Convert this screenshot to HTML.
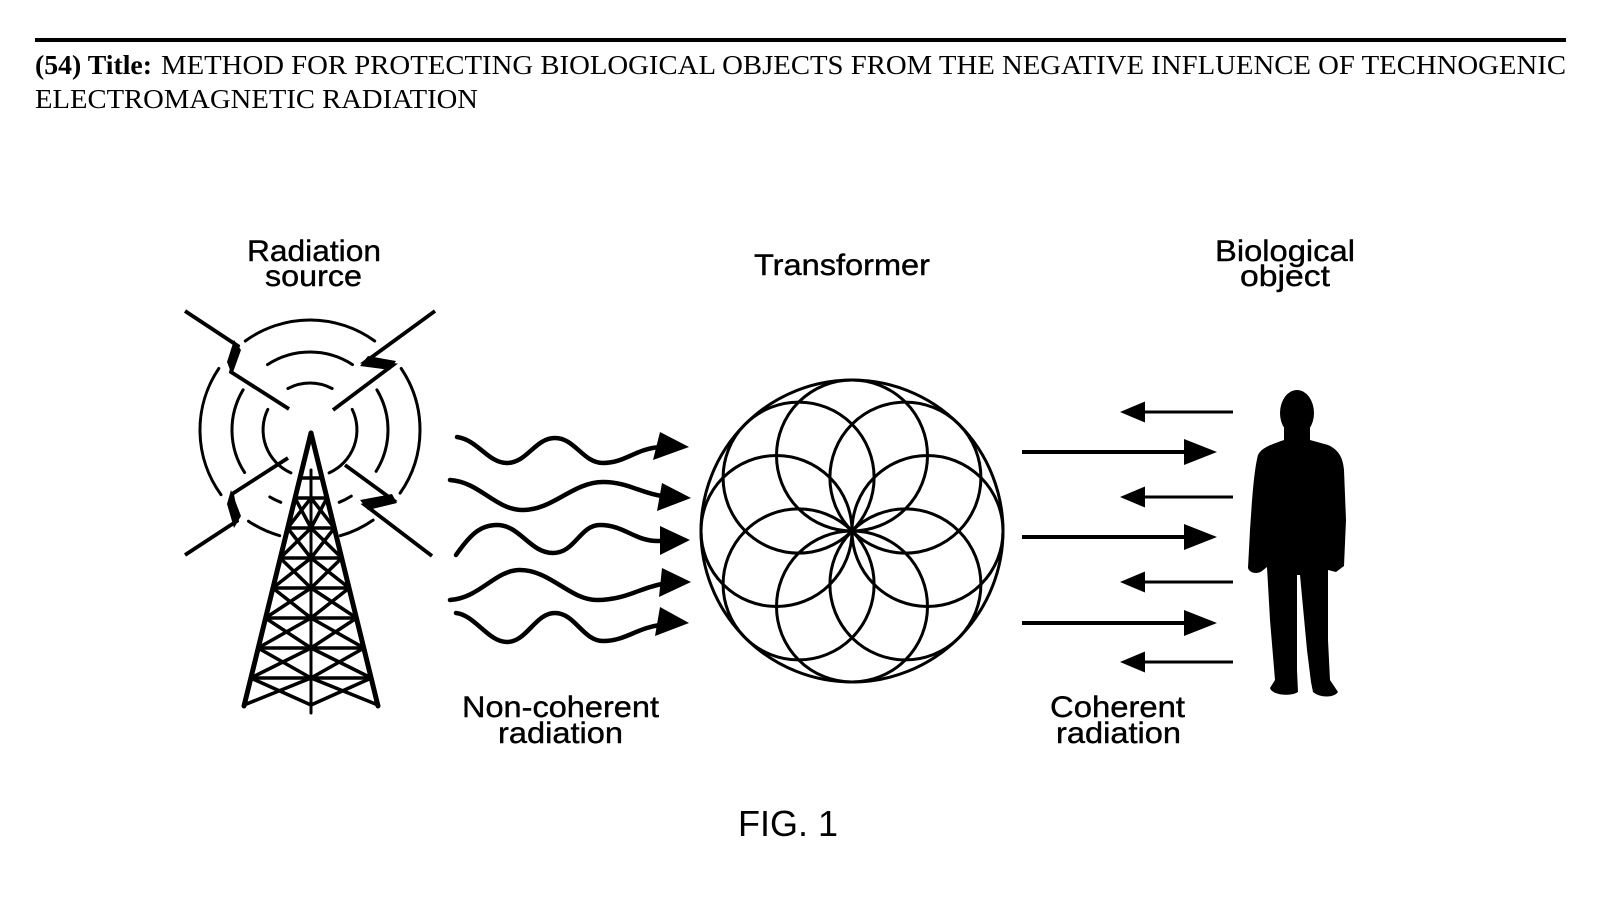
<!DOCTYPE html>
<html>
<head>
<meta charset="utf-8">
<style>
html,body{margin:0;padding:0;background:#fff;}
svg{display:block;}
</style>
</head>
<body>
<svg width="1600" height="900" viewBox="0 0 1600 900" xmlns="http://www.w3.org/2000/svg">
<rect x="0" y="0" width="1600" height="900" fill="#fff"/>

<!-- Header -->
<rect x="35" y="38" width="1531" height="4" fill="#000"/>
<text x="35" y="74" font-family="Liberation Serif, serif" font-size="27" font-weight="bold" textLength="117" lengthAdjust="spacingAndGlyphs">(54) Title:</text>
<text x="161" y="74" font-family="Liberation Serif, serif" font-size="27" textLength="1405" lengthAdjust="spacingAndGlyphs">METHOD FOR PROTECTING BIOLOGICAL OBJECTS FROM THE NEGATIVE INFLUENCE OF TECHNOGENIC</text>
<text x="35" y="108" font-family="Liberation Serif, serif" font-size="27" textLength="443" lengthAdjust="spacingAndGlyphs">ELECTROMAGNETIC RADIATION</text>

<!-- Labels -->
<g font-family="Liberation Sans, Arial, sans-serif" font-size="30" fill="#000" stroke="#000" stroke-width="0.4">
<text x="247" y="261" textLength="134" lengthAdjust="spacingAndGlyphs">Radiation</text>
<text x="265" y="286" textLength="97" lengthAdjust="spacingAndGlyphs">source</text>
<text x="754" y="275" textLength="176" lengthAdjust="spacingAndGlyphs">Transformer</text>
<text x="1215" y="261" textLength="140" lengthAdjust="spacingAndGlyphs">Biological</text>
<text x="1240" y="286" textLength="90" lengthAdjust="spacingAndGlyphs">object</text>
<text x="462" y="717" textLength="197" lengthAdjust="spacingAndGlyphs">Non-coherent</text>
<text x="498" y="743" textLength="125" lengthAdjust="spacingAndGlyphs">radiation</text>
<text x="1050" y="717" textLength="135" lengthAdjust="spacingAndGlyphs">Coherent</text>
<text x="1056" y="743" textLength="125" lengthAdjust="spacingAndGlyphs">radiation</text>
</g>
<text x="738" y="836" font-family="Liberation Sans, Arial, sans-serif" font-size="36" textLength="100" lengthAdjust="spacingAndGlyphs">FIG. 1</text>

<!-- Radiation rings -->
<g fill="none" stroke="#000" stroke-width="3" stroke-linecap="round">
<path d="M245.3,341 A110,110 0 0 1 374.7,341"/>
<path d="M401.2,368.5 A110,110 0 0 1 400.1,493.1"/>
<path d="M373.1,520.1 A110,110 0 0 1 340.3,535.7"/>
<path d="M279.7,535.7 A110,110 0 0 1 248.5,521.2"/>
<path d="M221,494.7 A110,110 0 0 1 218.8,368.5"/>
<path d="M267.5,364.6 A78,78 0 0 1 352.5,364.6"/>
<path d="M376.9,389.8 A78,78 0 0 1 376.1,471.3"/>
<path d="M351.3,496.1 A78,78 0 0 1 339.2,502.3"/>
<path d="M280.8,502.3 A78,78 0 0 1 269.8,496.9"/>
<path d="M244.6,472.5 A78,78 0 0 1 243.1,389.8"/>
<path d="M287.9,388.5 A47,47 0 0 1 332.1,388.5"/>
<path d="M352.2,409.4 A47,47 0 0 1 329.1,472.9"/>
<path d="M290.9,472.9 A47,47 0 0 1 267.8,409.4"/>
</g>

<!-- Lightning bolts -->
<g fill="none" stroke="#000" stroke-width="3.8" stroke-linejoin="miter" stroke-miterlimit="8" stroke-linecap="butt">
<polyline points="185,311 238,346 231,372 289,409"/>
<polyline points="435,311 365,362 393,365 333,410"/>
<polyline points="185,555 237,521 232,494 288,458"/>
<polyline points="345,465 393,500 365,505 432,556"/>
</g>
<g fill="#000">
<polygon points="234,340 241,350 232,375 227,362"/>
<polygon points="368,356 396,361 390,370 360,366"/>
<polygon points="234,528 241,516 231,490 227,504"/>
<polygon points="392,494 397,503 368,510 360,500"/>
</g>

<!-- Tower -->
<g stroke="#000" fill="none" stroke-linecap="round">
<line x1="311" y1="433" x2="244" y2="706" stroke-width="5"/>
<line x1="311" y1="433" x2="378" y2="706" stroke-width="5"/>
<line x1="311" y1="470" x2="311" y2="713" stroke-width="3"/>
<g stroke-width="3.5">
<line x1="295" y1="498" x2="327" y2="498"/>
<line x1="287.6" y1="528" x2="334.4" y2="528"/>
<line x1="280.2" y1="558" x2="341.8" y2="558"/>
<line x1="272.8" y1="588" x2="349.2" y2="588"/>
<line x1="265.4" y1="618" x2="356.6" y2="618"/>
<line x1="258" y1="648" x2="364" y2="648"/>
<line x1="250.7" y1="678" x2="371.3" y2="678"/>
<path d="M295,498 L311,528 M311,498 L287.6,528 M327,498 L311,528 M311,498 L334.4,528"/>
<path d="M287.6,528 L311,558 M311,528 L280.2,558 M334.4,528 L311,558 M311,528 L341.8,558"/>
<path d="M280.2,558 L311,588 M311,558 L272.8,588 M341.8,558 L311,588 M311,558 L349.2,588"/>
<path d="M272.8,588 L311,618 M311,588 L265.4,618 M349.2,588 L311,618 M311,588 L356.6,618"/>
<path d="M265.4,618 L311,648 M311,618 L258,648 M356.6,618 L311,648 M311,618 L364,648"/>
<path d="M258,648 L311,678 M311,648 L250.7,678 M364,648 L311,678 M311,648 L371.3,678"/>
<path d="M250.7,678 L311,705 M311,678 L244,705 M371.3,678 L311,705 M311,678 L378,705"/>
<path d="M300,478 L322,478"/>
</g>
</g>

<!-- Waves -->
<g fill="none" stroke="#000" stroke-width="4.5" stroke-linecap="round">
<path d="M457,437 C478,440 488,463 507,463 C527,463 535,438 555,438 C575,438 583,463 603,463 C625,463 635,449 660,447"/>
<path d="M450,480 C480,482 495,510 523,510 C553,510 573,482 603,482 C628,482 640,493 662,496"/>
<path d="M456,555 C470,535 480,525 497,525 C520,525 530,553 553,553 C575,553 580,525 600,525 C625,525 635,542 660,541"/>
<path d="M450,600 C480,598 495,570 520,570 C550,570 570,600 597,600 C625,600 640,588 662,584"/>
<path d="M456,613 C475,615 488,642 507,642 C527,642 535,613 555,613 C575,613 583,641 603,641 C625,641 637,628 660,625"/>
</g>
<g fill="#000">
<polygon points="689,447 660,432 653,460"/>
<polygon points="691,498 662,483 657,511"/>
<polygon points="690,540 660,526 660,555"/>
<polygon points="691,582 662,568 659,597"/>
<polygon points="689,623 660,607 655,636"/>
</g>

<!-- Transformer: flower -->
<g fill="none" stroke="#000" stroke-width="3">
<circle cx="852" cy="531" r="151"/>
<circle cx="927.5" cy="531" r="75.5"/>
<circle cx="905.4" cy="584.4" r="75.5"/>
<circle cx="852" cy="606.5" r="75.5"/>
<circle cx="798.6" cy="584.4" r="75.5"/>
<circle cx="776.5" cy="531" r="75.5"/>
<circle cx="798.6" cy="477.6" r="75.5"/>
<circle cx="852" cy="455.5" r="75.5"/>
<circle cx="905.4" cy="477.6" r="75.5"/>
</g>

<!-- Coherent arrows -->
<g stroke="#000" fill="none">
<line x1="1022" y1="452" x2="1188" y2="452" stroke-width="4"/>
<line x1="1022" y1="537" x2="1188" y2="537" stroke-width="4"/>
<line x1="1022" y1="623" x2="1188" y2="623" stroke-width="4"/>
<line x1="1140" y1="412" x2="1233" y2="412" stroke-width="3"/>
<line x1="1140" y1="497" x2="1233" y2="497" stroke-width="3"/>
<line x1="1140" y1="582" x2="1233" y2="582" stroke-width="3"/>
<line x1="1140" y1="662" x2="1233" y2="662" stroke-width="3"/>
</g>
<g fill="#000">
<polygon points="1217,452 1184,439 1184,465"/>
<polygon points="1217,537 1184,524 1184,550"/>
<polygon points="1217,623 1184,610 1184,636"/>
<polygon points="1120,412 1145,401.5 1145,422.5"/>
<polygon points="1120,497 1145,486.5 1145,507.5"/>
<polygon points="1120,582 1145,571.5 1145,592.5"/>
<polygon points="1120,662 1145,651.5 1145,672.5"/>
</g>

<!-- Person silhouette -->
<g fill="#000">
<ellipse cx="1297" cy="413" rx="17" ry="23"/>
<path d="M1284,428 L1310,428 L1310,440 L1328,445 C1337,449 1343,456 1344,470 L1346,520 L1344,566 L1336,572 L1328,570 L1328,640 L1330,680 L1338,692 C1334,698 1320,698 1313,692 L1311,682 L1307,650 L1300,575 L1297,575 L1297,670 L1298,692 C1290,697 1272,695 1270,688 L1275,680 L1270,620 L1267,567 L1262,571 C1258,574 1250,574 1248,568 L1250,530 C1252,500 1254,470 1258,455 C1262,447 1273,444 1284,440 Z"/>
</g>
</svg>
</body>
</html>
